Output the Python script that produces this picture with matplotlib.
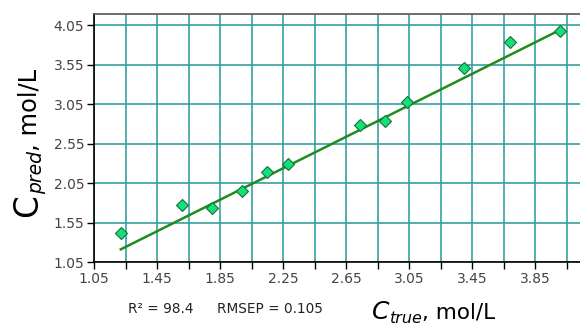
import matplotlib
matplotlib.use("Agg")
import matplotlib.pyplot as plt
import numpy as np

c_true = [1.22, 1.61, 1.80, 1.99, 2.15, 2.28, 2.74, 2.90, 3.04, 3.40, 3.69, 4.01]
c_pred = [1.42, 1.77, 1.73, 1.95, 2.19, 2.29, 2.78, 2.83, 3.08, 3.50, 3.83, 3.97]
fit_x = [1.22, 4.01]
fit_y = [1.21, 3.99]
xticks_major = [1.05, 1.45, 1.85, 2.25, 2.65, 3.05, 3.45, 3.85]
xgrid = [1.05, 1.25, 1.45, 1.65, 1.85, 2.05, 2.25, 2.45, 2.65, 2.85, 3.05, 3.25, 3.45, 3.65, 3.85, 4.05]
yticks = [1.05, 1.55, 2.05, 2.55, 3.05, 3.55, 4.05]
stats_r2 = "R² = 98.4"
stats_rmsep = "RMSEP = 0.105"

plt.rcParams['font.family'] = ['DejaVu Sans']

W, H = 580, 325
fig = plt.figure(figsize=(5.8, 3.25), dpi=100)
ax = fig.add_axes([94/W, 63/H, 486/W, 248/H])

grid_c = '#36a0a0'
ax.set_xlim(1.05, 4.135)
ax.set_ylim(1.05, 4.19)
ax.set_xticks(xgrid)
ax.set_xticklabels([f"{v:.2f}" if any(abs(v - m) < 1e-6 for m in xticks_major) else "" for v in xgrid])
ax.set_yticks(yticks)
ax.set_yticklabels([f"{v:.2f}" for v in yticks])
ax.grid(True, color=grid_c, linewidth=1.2)
ax.set_axisbelow(True)
ax.tick_params(axis='both', direction='out', length=5, width=1, color='black',
               labelsize=10, labelcolor='#444444', pad=2)

for s in ['left', 'bottom']:
    ax.spines[s].set_color('black')
    ax.spines[s].set_linewidth(1.2)
ax.spines['top'].set_color('#555555')
ax.spines['top'].set_linewidth(1.2)
ax.spines['right'].set_visible(False)

ax.plot(fit_x, fit_y, color='#1e8c1e', linewidth=1.8, zorder=3)
ax.plot(c_true, c_pred, linestyle='none', marker='D', markersize=6.5,
        markerfacecolor='#14e07a', markeredgecolor='#1a6e3a', markeredgewidth=0.8, zorder=4)

fig.canvas.draw()
renderer = fig.canvas.get_renderer()


def rich_label(x0, y0, parts, rotated=False):
    """parts: (text, size, style, baseline_shift_px). x0,y0 in pixels from top-left."""
    pos = 0.0
    for txt, size, style, shift in parts:
        if rotated:
            t = fig.text((x0 + shift) / W, 1 - (y0 - pos) / H, txt, fontsize=size, style=style,
                         rotation=90, rotation_mode='anchor', ha='left', va='baseline')
            pos += t.get_window_extent(renderer).height
        else:
            t = fig.text((x0 + pos) / W, 1 - (y0 + shift) / H, txt, fontsize=size, style=style,
                         ha='left', va='baseline')
            pos += t.get_window_extent(renderer).width


rich_label(372, 319, [("C", 18, 'italic', 0), ("true", 11.5, 'italic', 4), (", mol/L", 15.5, 'normal', 0)])
rich_label(37, 217, [("C", 23.5, 'normal', 0), ("pred", 13.5, 'italic', 5), (", mol/L", 17.5, 'normal', 0)], rotated=True)

fig.text(128/W, 1 - 309/H, stats_r2, ha='left', va='center', fontsize=9.8, color='#222222')
fig.text(217/W, 1 - 309/H, stats_rmsep, ha='left', va='center', fontsize=9.8, color='#222222')

fig.savefig("out.png", dpi=100)
